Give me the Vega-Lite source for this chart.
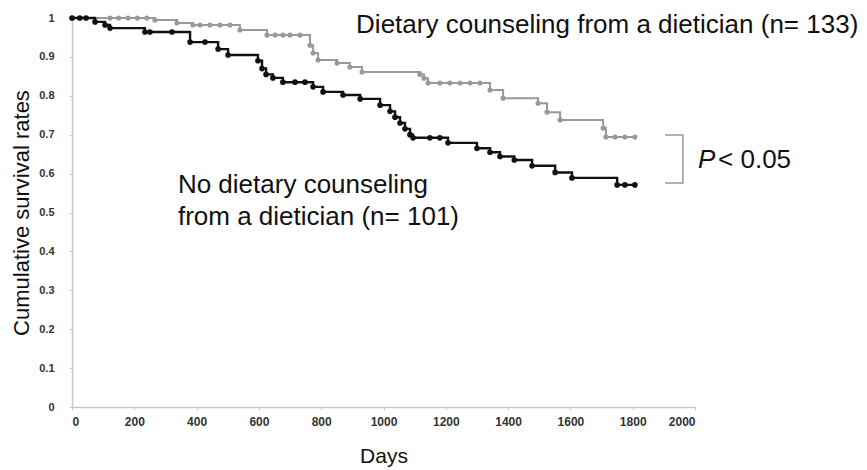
{
  "$schema": "https://vega.github.io/schema/vega-lite/v6.json",
  "width": 623,
  "height": 389,
  "autosize": "none",
  "padding": {"left": 72, "top": 18, "right": 172, "bottom": 63},
  "config": {
    "view": {"stroke": null},
    "font": "Liberation Sans",
    "axis": {
      "grid": false,
      "domainColor": "#c8c8c8",
      "domainWidth": 1.5,
      "tickColor": "#c8c8c8",
      "tickSize": 3,
      "labelOverlap": false,
      "labelFont": "Liberation Sans",
      "labelFontWeight": "bold",
      "labelColor": "#333333",
      "titleFont": "Liberation Sans",
      "titleFontWeight": "normal",
      "titleColor": "#111111"
    }
  },
  "datasets": {
    "km": [
      {"group": "none", "day": 0, "surv": 1.0},
      {"group": "none", "day": 25, "surv": 1.0},
      {"group": "none", "day": 45, "surv": 1.0},
      {"group": "none", "day": 74, "surv": 0.99},
      {"group": "none", "day": 106, "surv": 0.982},
      {"group": "none", "day": 122, "surv": 0.974},
      {"group": "none", "day": 234, "surv": 0.964},
      {"group": "none", "day": 250, "surv": 0.964},
      {"group": "none", "day": 321, "surv": 0.964},
      {"group": "none", "day": 379, "surv": 0.938},
      {"group": "none", "day": 427, "surv": 0.938},
      {"group": "none", "day": 469, "surv": 0.92},
      {"group": "none", "day": 501, "surv": 0.905},
      {"group": "none", "day": 597, "surv": 0.89},
      {"group": "none", "day": 610, "surv": 0.87},
      {"group": "none", "day": 623, "surv": 0.855},
      {"group": "none", "day": 645, "surv": 0.846},
      {"group": "none", "day": 677, "surv": 0.835},
      {"group": "none", "day": 716, "surv": 0.835},
      {"group": "none", "day": 748, "surv": 0.835},
      {"group": "none", "day": 774, "surv": 0.823},
      {"group": "none", "day": 806, "surv": 0.81},
      {"group": "none", "day": 870, "surv": 0.802},
      {"group": "none", "day": 925, "surv": 0.792},
      {"group": "none", "day": 989, "surv": 0.776},
      {"group": "none", "day": 1021, "surv": 0.76},
      {"group": "none", "day": 1037, "surv": 0.745},
      {"group": "none", "day": 1053, "surv": 0.73},
      {"group": "none", "day": 1069, "surv": 0.715},
      {"group": "none", "day": 1085, "surv": 0.70},
      {"group": "none", "day": 1095, "surv": 0.692},
      {"group": "none", "day": 1149, "surv": 0.692},
      {"group": "none", "day": 1181, "surv": 0.692},
      {"group": "none", "day": 1207, "surv": 0.679},
      {"group": "none", "day": 1300, "surv": 0.665},
      {"group": "none", "day": 1342, "surv": 0.655},
      {"group": "none", "day": 1374, "surv": 0.644},
      {"group": "none", "day": 1420, "surv": 0.635},
      {"group": "none", "day": 1477, "surv": 0.62},
      {"group": "none", "day": 1551, "surv": 0.603},
      {"group": "none", "day": 1605, "surv": 0.589},
      {"group": "none", "day": 1750, "surv": 0.571},
      {"group": "none", "day": 1775, "surv": 0.571},
      {"group": "none", "day": 1807, "surv": 0.571},
      {"group": "counseling", "day": 0, "surv": 1.0},
      {"group": "counseling", "day": 122, "surv": 1.0},
      {"group": "counseling", "day": 150, "surv": 1.0},
      {"group": "counseling", "day": 180, "surv": 1.0},
      {"group": "counseling", "day": 210, "surv": 1.0},
      {"group": "counseling", "day": 240, "surv": 1.0},
      {"group": "counseling", "day": 266, "surv": 0.995},
      {"group": "counseling", "day": 337, "surv": 0.987},
      {"group": "counseling", "day": 388, "surv": 0.982},
      {"group": "counseling", "day": 411, "surv": 0.982},
      {"group": "counseling", "day": 443, "surv": 0.982},
      {"group": "counseling", "day": 475, "surv": 0.982},
      {"group": "counseling", "day": 507, "surv": 0.982},
      {"group": "counseling", "day": 539, "surv": 0.969},
      {"group": "counseling", "day": 626, "surv": 0.956},
      {"group": "counseling", "day": 652, "surv": 0.956},
      {"group": "counseling", "day": 677, "surv": 0.956},
      {"group": "counseling", "day": 700, "surv": 0.956},
      {"group": "counseling", "day": 732, "surv": 0.956},
      {"group": "counseling", "day": 764, "surv": 0.93},
      {"group": "counseling", "day": 774, "surv": 0.91},
      {"group": "counseling", "day": 790, "surv": 0.892},
      {"group": "counseling", "day": 851, "surv": 0.884},
      {"group": "counseling", "day": 892, "surv": 0.874},
      {"group": "counseling", "day": 931, "surv": 0.861},
      {"group": "counseling", "day": 1117, "surv": 0.855},
      {"group": "counseling", "day": 1130, "surv": 0.845},
      {"group": "counseling", "day": 1143, "surv": 0.833},
      {"group": "counseling", "day": 1181, "surv": 0.833},
      {"group": "counseling", "day": 1213, "surv": 0.833},
      {"group": "counseling", "day": 1246, "surv": 0.833},
      {"group": "counseling", "day": 1278, "surv": 0.833},
      {"group": "counseling", "day": 1310, "surv": 0.833},
      {"group": "counseling", "day": 1342, "surv": 0.815},
      {"group": "counseling", "day": 1384, "surv": 0.794},
      {"group": "counseling", "day": 1496, "surv": 0.781},
      {"group": "counseling", "day": 1525, "surv": 0.758},
      {"group": "counseling", "day": 1567, "surv": 0.738},
      {"group": "counseling", "day": 1705, "surv": 0.717},
      {"group": "counseling", "day": 1714, "surv": 0.694},
      {"group": "counseling", "day": 1743, "surv": 0.694},
      {"group": "counseling", "day": 1775, "surv": 0.694},
      {"group": "counseling", "day": 1807, "surv": 0.694}
    ],
    "bracket": [
      {"order": 1, "day": 1904, "surv": 0.699},
      {"order": 2, "day": 1961, "surv": 0.699},
      {"order": 3, "day": 1961, "surv": 0.576},
      {"order": 4, "day": 1904, "surv": 0.576}
    ],
    "notes": [
      {"label": "Dietary counseling from a dietician (n= 133)", "day": 912, "surv": 0.961},
      {"label": "No dietary counseling", "day": 340, "surv": 0.550},
      {"label": "from a dietician (n= 101)", "day": 340, "surv": 0.468},
      {"label": "< 0.05", "day": 2074, "surv": 0.614}
    ],
    "pnote": [
      {"label": "P", "day": 2010, "surv": 0.614}
    ]
  },
  "layer": [
    {
      "data": {"name": "km"},
      "transform": [{"filter": "datum.group === 'counseling'"}],
      "mark": {"type": "line", "interpolate": "step-after", "color": "#999999", "strokeWidth": 2},
      "encoding": {
        "x": {"field": "day", "type": "quantitative", "scale": {"domain": [0, 2000], "nice": false},
          "axis": {"values": [0, 200, 400, 600, 800, 1000, 1200, 1400, 1600, 1800, 2000], "format": "d", "labelOverlap": false, "title": "Days", "titleFontSize": 21, "titlePadding": 18, "labelFontSize": 12, "labelPadding": 6}},
        "y": {"field": "surv", "type": "quantitative", "scale": {"domain": [0, 1], "nice": false},
          "axis": {"values": [0, 0.1, 0.2, 0.3, 0.4, 0.5, 0.6, 0.7, 0.8, 0.9, 1], "format": ".1~f", "labelOverlap": false, "tickCount": 11, "title": "Cumulative survival rates", "titleFontSize": 22, "titlePadding": 5, "labelFontSize": 11, "labelPadding": 15}}
      }
    },
    {
      "data": {"name": "km"},
      "transform": [{"filter": "datum.group === 'counseling'"}],
      "mark": {"type": "point", "filled": true, "color": "#999999", "size": 26, "opacity": 1},
      "encoding": {
        "x": {"field": "day", "type": "quantitative"},
        "y": {"field": "surv", "type": "quantitative"}
      }
    },
    {
      "data": {"name": "km"},
      "transform": [{"filter": "datum.group === 'none'"}],
      "mark": {"type": "line", "interpolate": "step-after", "color": "#111111", "strokeWidth": 2.4},
      "encoding": {
        "x": {"field": "day", "type": "quantitative"},
        "y": {"field": "surv", "type": "quantitative"}
      }
    },
    {
      "data": {"name": "km"},
      "transform": [{"filter": "datum.group === 'none'"}],
      "mark": {"type": "point", "filled": true, "color": "#111111", "size": 32, "opacity": 1},
      "encoding": {
        "x": {"field": "day", "type": "quantitative"},
        "y": {"field": "surv", "type": "quantitative"}
      }
    },
    {
      "data": {"name": "bracket"},
      "mark": {"type": "line", "color": "#999999", "strokeWidth": 1.5},
      "encoding": {
        "x": {"field": "day", "type": "quantitative"},
        "y": {"field": "surv", "type": "quantitative"},
        "order": {"field": "order", "type": "quantitative"}
      }
    },
    {
      "data": {"name": "notes"},
      "mark": {"type": "text", "align": "left", "baseline": "alphabetic", "fontSize": 26, "color": "#111111", "font": "Liberation Sans"},
      "encoding": {
        "x": {"field": "day", "type": "quantitative"},
        "y": {"field": "surv", "type": "quantitative"},
        "text": {"field": "label"}
      }
    },
    {
      "data": {"name": "pnote"},
      "mark": {"type": "text", "align": "left", "baseline": "alphabetic", "fontSize": 26, "fontStyle": "italic", "color": "#111111", "font": "Liberation Sans"},
      "encoding": {
        "x": {"field": "day", "type": "quantitative"},
        "y": {"field": "surv", "type": "quantitative"},
        "text": {"field": "label"}
      }
    }
  ]
}
